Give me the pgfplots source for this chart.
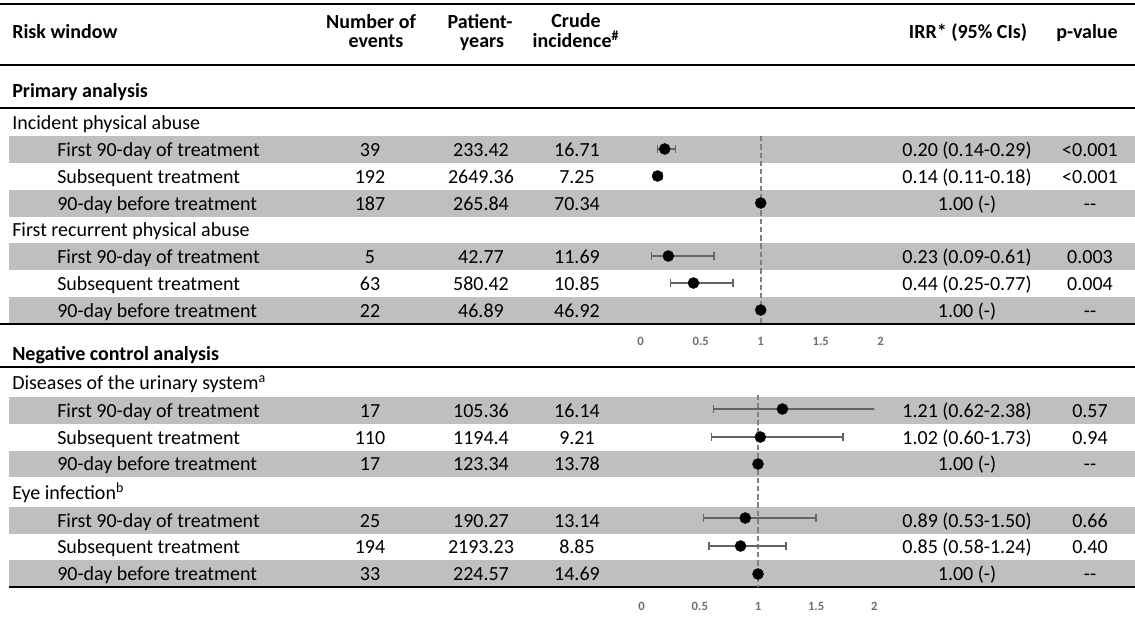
\documentclass[border=0pt]{standalone}
\usepackage{fontspec}
\setmainfont{Carlito}
\usepackage{pgfplots}
\usepackage{pgfplotstable}
\pgfplotsset{compat=1.18}
\definecolor{rowgray}{RGB}{191,191,191}
\definecolor{ebar}{RGB}{100,100,100}
\definecolor{dashc}{RGB}{128,128,128}
\definecolor{tickc}{RGB}{110,110,110}

% upper forest plot (y = -pixel row)
\pgfplotstableread{
x y
0.20 -149
0.14 -176
1.00 -203
0.23 -256
0.44 -283
1.00 -310
}\upperall
\pgfplotstableread{
x y ep em
0.20 -149 0.09 0.06
0.14 -176 0.04 0.03
0.23 -256 0.38 0.14
0.44 -283 0.33 0.19
}\upperci
\pgfplotstableread{
x y
1.21 -409
1.02 -437
1.00 -464
0.89 -518
0.85 -546
1.00 -574
}\lowerall
\pgfplotstableread{
x y ep em
1.21 -409 1.17 0.59
1.02 -437 0.71 0.42
0.89 -518 0.61 0.36
0.85 -546 0.39 0.27
}\lowerci

\pgfplotsset{forest/.style={
  scale only axis, xmin=0, xmax=2,
  axis x line*=bottom, axis y line=none,
  x axis line style={-, black, line width=2pt},
  xtick={0,0.5,1,1.5,2}, xticklabels={0,0.5,1,1.5,2},
  xtick style={draw=none},
  xticklabel style={font=\fontsize{9.5}{11}\selectfont\bfseries, text=tickc, anchor=center},
  clip=true,
},
ci/.style={draw=none, mark=none, forget plot,
  error bars/.cd, x dir=both, x explicit,
  error bar style={draw=ebar, line width=1pt},
  error mark=|,
  error mark options={draw=ebar, line width=1pt, mark size=2.7pt}},
}

\newcommand\TL[3]{\node[anchor=base west, inner sep=0pt] at (#1*0.75pt,-#2*0.75pt) {#3};}
\newcommand\TC[3]{\node[anchor=base, inner sep=0pt] at (#1*0.75pt,-#2*0.75pt) {#3};}
\newcommand\Row[6]{%
  \TL{57}{#1}{#2}\TC{370}{#1}{#3}\TC{481}{#1}{#4}\TC{577}{#1}{#5}\TC{967}{#1}{#6}}
\newcommand\PV[2]{\TC{1090}{#1}{#2}}

\begin{document}
\fontsize{15pt}{18pt}\selectfont
\begin{tikzpicture}
\begin{scope}[x=0.75pt,y=-0.75pt]
\path[use as bounding box] (0,0) rectangle (1135,613);
% gray rows
\foreach \a/\b in {136/163,190/217,243/270,297/324,397/424,451/477,507/534,560/587}{
  \fill[rowgray] (9,\a) rectangle (1135,\b);
}
% rules
\foreach \yy in {4,65,108,324,367}{\draw[black, line width=1pt] (0,\yy) -- (1135,\yy);}
\draw[black, line width=1pt] (9,587) -- (1135,587);
\end{scope}

% header
\TL{12}{38.5}{\bfseries Risk window}
\TC{371}{28}{\bfseries Number of}\TC{376}{47.5}{\bfseries events}
\TC{480}{28}{\bfseries Patient-}\TC{482}{47.5}{\bfseries years}
\TC{576}{27}{\bfseries Crude}\TC{576}{47.5}{\bfseries incidence\textsuperscript{\#}}
\TC{968}{38.5}{\bfseries IRR* (95\% CIs)}
\TC{1087}{38.5}{\bfseries p-value}

% sections
\TL{12}{97}{\bfseries Primary analysis}
\TL{12}{129.5}{Incident physical abuse}
\Row{156.5}{First 90-day of treatment}{39}{233.42}{16.71}{0.20 (0.14-0.29)}\PV{156.5}{<0.001}
\Row{183.5}{Subsequent treatment}{192}{2649.36}{7.25}{0.14 (0.11-0.18)}\PV{183.5}{<0.001}
\Row{210.5}{90-day before treatment}{187}{265.84}{70.34}{1.00 (-)}\PV{210.5}{{-}{-}}
\TL{12}{236.5}{First recurrent physical abuse}
\Row{263.5}{First 90-day of treatment}{5}{42.77}{11.69}{0.23 (0.09-0.61)}\PV{263.5}{0.003}
\Row{290.5}{Subsequent treatment}{63}{580.42}{10.85}{0.44 (0.25-0.77)}\PV{290.5}{0.004}
\Row{317.5}{90-day before treatment}{22}{46.89}{46.92}{1.00 (-)}\PV{317.5}{{-}{-}}

\TL{12}{360}{\bfseries Negative control analysis}
\TL{12}{389.5}{Diseases of the urinary system\textsuperscript{a}}
\Row{417.5}{First 90-day of treatment}{17}{105.36}{16.14}{1.21 (0.62-2.38)}\PV{417.5}{0.57}
\Row{444.5}{Subsequent treatment}{110}{1194.4}{9.21}{1.02 (0.60-1.73)}\PV{444.5}{0.94}
\Row{470.5}{90-day before treatment}{17}{123.34}{13.78}{1.00 (-)}\PV{470.5}{{-}{-}}
\TL{12}{499.5}{Eye infection\textsuperscript{b}}
\Row{527}{First 90-day of treatment}{25}{190.27}{13.14}{0.89 (0.53-1.50)}\PV{527}{0.66}
\Row{553.5}{Subsequent treatment}{194}{2193.23}{8.85}{0.85 (0.58-1.24)}\PV{553.5}{0.40}
\Row{580.5}{90-day before treatment}{33}{224.57}{14.69}{1.00 (-)}\PV{580.5}{{-}{-}}

% upper forest plot
\begin{axis}[forest, at={(480.525pt,-243pt)}, anchor=south west,
  width=180pt, height=141pt, ymin=-324, ymax=-136,
  xticklabel style={yshift=-12.75pt}]
\addplot[dashc, line width=1.5pt, dash pattern=on 4pt off 2.2pt] coordinates {(1,-136) (1,-324)};
\addplot[ci] table[x=x, y=y, x error plus=ep, x error minus=em] {\upperci};
\addplot[only marks, mark=*, mark size=4.1pt, black] table[x=x, y=y] {\upperall};
\end{axis}

% lower forest plot
\begin{axis}[forest, at={(481.275pt,-440.25pt)}, anchor=south west,
  width=174.45pt, height=144pt, ymin=-587, ymax=-395,
  xticklabel style={yshift=-14.25pt}]
\addplot[dashc, line width=1.5pt, dash pattern=on 4pt off 2.2pt] coordinates {(1,-395) (1,-587)};
\addplot[ci] table[x=x, y=y, x error plus=ep, x error minus=em] {\lowerci};
\addplot[only marks, mark=*, mark size=4.1pt, black] table[x=x, y=y] {\lowerall};
\end{axis}
\end{tikzpicture}
\end{document}
